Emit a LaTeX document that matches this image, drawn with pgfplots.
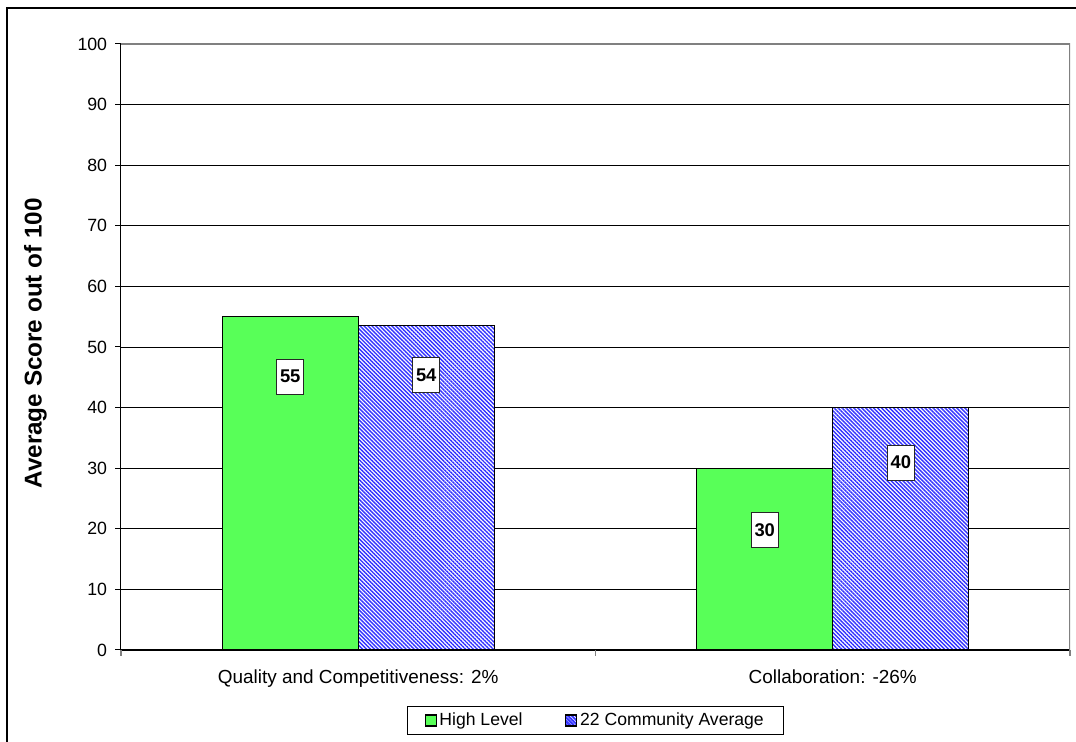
\documentclass[border=0pt]{standalone}
\usepackage{pgfplots}
\pgfplotsset{compat=1.18}
\usepackage{pgfplotstable}
\usepackage{fontspec}
\setmainfont{Liberation Sans}
\usetikzlibrary{patterns.meta}

\definecolor{hlgreen}{RGB}{88,255,88}
\definecolor{hatchblue}{RGB}{50,50,255}
\definecolor{framegray}{RGB}{128,128,128}

% category position, score, offset of the value box below the bar top (pt)
\pgfplotstableread{
x  y     off
0  55.0  45.0
1  29.9  45.75
}\highlevel
\pgfplotstableread{
x  y     off
0  53.6  37.5
1  40.0  41.25
}\communityavg

\begin{document}
\begin{tikzpicture}
\useasboundingbox (0,0) rectangle (807pt,556.5pt);
% outer chart frame
\draw[line width=1.5pt] (5.25pt,-5pt) -- (5.25pt,550.5pt) -- (820pt,550.5pt);
\begin{axis}[
  at={(90.75pt,69pt)}, anchor=south west,
  scale only axis, width=711.75pt, height=454.5pt,
  /pgf/number format/assume math mode=true,
  xmin=-0.5, xmax=1.5, ymin=0, ymax=100,
  ybar=0pt, bar width=102pt,
  axis lines*=left,
  axis line style={black, line width=0.75pt},
  tick align=outside,
  major tick length=4.5pt,
  ytick={0,10,...,100},
  ymajorgrids, major grid style={black, line width=0.6pt},
  xtick={0,1},
  xticklabels={Quality and Competitiveness: 2\%, Collaboration: -26\%},
  xtick style={draw=none},
  extra x ticks={-0.5,0.5,1.5},
  extra x tick labels={},
  extra x tick style={grid=none, xtick style={draw=framegray, line width=1pt}},
  ytick style={black, line width=0.75pt},
  yticklabel style={xshift=-2.4pt, font=\fontsize{13.3}{15}\selectfont},
  xticklabel style={yshift=-7pt, font=\fontsize{14.2}{16}\selectfont},
  ylabel={Average Score out of 100},
  every axis y label/.style={at={(axis description cs:-0.0901,0.506)}, rotate=90, anchor=center,
    font=\fontsize{18.2}{20}\selectfont\bfseries},
  nodes near coords={\pgfmathprintnumber[fixed,precision=0]{\pgfplotspointmeta}},
  visualization depends on={\thisrow{off} \as \off},
  every node near coord/.append style={anchor=center, yshift=-\off pt,
    fill=white, draw=black!85, line width=0.6pt, inner sep=1pt,
    minimum width=20.25pt, minimum height=26pt,
    font=\fontsize{13.8}{15}\selectfont\bfseries},
  legend columns=2,
  legend style={at={(axis description cs:0.5,-0.0924)}, anchor=north,
    draw=black, line width=0.75pt, inner xsep=13pt, inner ysep=3pt,
    font=\fontsize{13.2}{15}\selectfont,
    /tikz/every even column/.append style={column sep=30pt}},
  legend cell align=left,
]
\addplot[draw=black, line width=1pt, fill=hlgreen,
  legend image code/.code={\draw[draw=black, line width=0.9pt, fill=hlgreen] (-3pt,-4.1pt) rectangle (5.25pt,4.1pt);}]
  table[x=x, y=y] {\highlevel};
\addplot[draw=black, line width=1pt, fill=white,
  postaction={pattern={Lines[angle=-45, distance=2.1pt, line width=1.05pt]}, pattern color=hatchblue},
  legend image code/.code={\draw[draw=black, line width=0.9pt, fill=white,
    postaction={pattern={Lines[angle=-45, distance=1.9pt, line width=0.95pt]}, pattern color=hatchblue}] (-3pt,-4.1pt) rectangle (5.25pt,4.1pt);}]
  table[x=x, y=y] {\communityavg};
\legend{High Level, 22 Community Average}
% plot-area frame on the top and right sides
\draw[framegray, line width=1.1pt] (rel axis cs:0,1) -- (rel axis cs:1,1) -- (rel axis cs:1,0);
\end{axis}
\end{tikzpicture}
\end{document}
